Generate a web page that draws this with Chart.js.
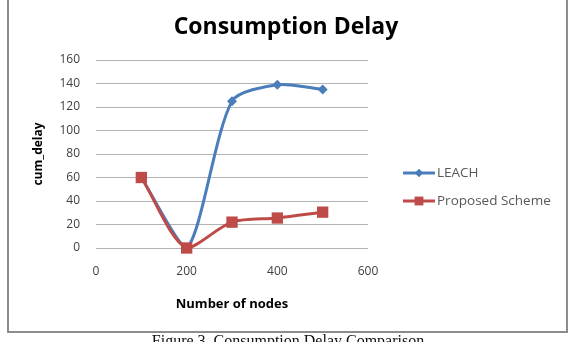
<!DOCTYPE html>
<html>
<head>
<meta charset="utf-8">
<script src="https://cdn.jsdelivr.net/npm/chart.js@4.4.1/dist/chart.umd.min.js"></script>
<style>
  html, body { margin: 0; padding: 0; background: #fff; overflow: hidden; }
  #wrap { position: relative; width: 576px; height: 342px; }
  #frame { position: absolute; left: 7px; top: -3px; width: 557px; height: 332px; border: 2px solid #8c8c8c; box-sizing: content-box; }
  #caption { position: absolute; left: 0; width: 576px; top: 332px; text-align: center; font-family: "Liberation Serif", "DejaVu Serif", serif; font-size: 16px; color: #111; white-space: nowrap; }
  canvas { position: absolute; left: 0; top: 0; }
</style>
</head>
<body>
<div id="wrap">
  <div id="frame"></div>
  <canvas id="c" width="576" height="342"></canvas>
  <div id="caption">Figure 3. Consumption Delay Comparison</div>
</div>
<script>
const nodes = [100, 200, 300, 400, 500];
const leach = [60, 0, 125, 139, 135];
const proposed = [60, 0, 22, 25.5, 30.5];
const seriesNames = ['LEACH', 'Proposed Scheme'];
const yTicks = [0, 20, 40, 60, 80, 100, 120, 140, 160];
const xTicks = [0, 200, 400, 600];
const chartTitle = 'Consumption Delay';

const blue = '#4A7EBB';
const red = '#BE4B48';
const FONT = '"Open Sans", "Liberation Sans", sans-serif';

const toPts = (ys) => nodes.map((x, i) => ({ x: x, y: ys[i] }));

const titlePlugin = {
  id: 'centerTitle',
  afterDraw(chart) {
    const ctx = chart.ctx;
    ctx.save();
    ctx.fillStyle = '#000';
    ctx.font = 'bold 23px ' + FONT;
    ctx.textAlign = 'center';
    ctx.textBaseline = 'middle';
    ctx.fillText(chartTitle, 286, 27);
    ctx.restore();
  }
};

const legendPlugin = {
  id: 'excelLegend',
  afterDraw(chart) {
    const ctx = chart.ctx;
    const rows = [173, 201];
    chart.data.datasets.forEach((ds, i) => {
      const y = rows[i];
      ctx.save();
      ctx.strokeStyle = ds.borderColor;
      ctx.lineWidth = 3;
      ctx.beginPath();
      ctx.moveTo(403, y);
      ctx.lineTo(435, y);
      ctx.stroke();
      ctx.fillStyle = ds.backgroundColor;
      Chart.helpers.drawPoint(ctx, { pointStyle: ds.pointStyle, radius: i === 0 ? 4 : 6, borderWidth: 0 }, 419, y);
      ctx.fill();
      ctx.fillStyle = '#595959';
      ctx.font = '13.5px ' + FONT;
      ctx.textBaseline = 'middle';
      ctx.textAlign = 'left';
      ctx.fillText(ds.label, 437, y);
      ctx.restore();
    });
  }
};

new Chart(document.getElementById('c'), {
  type: 'scatter',
  data: {
    datasets: [
      {
        label: seriesNames[0],
        data: toPts(leach),
        showLine: true,
        borderColor: blue,
        backgroundColor: blue,
        borderWidth: 3,
        tension: 0.25,
        pointStyle: 'rectRot',
        pointRadius: 5,
        pointBorderWidth: 0,
        clip: false,
        order: 2
      },
      {
        label: seriesNames[1],
        data: toPts(proposed),
        showLine: true,
        borderColor: red,
        backgroundColor: red,
        borderWidth: 3,
        tension: 0.3,
        pointStyle: 'rect',
        pointRadius: 8,
        pointBorderWidth: 0,
        clip: false,
        order: 1
      }
    ]
  },
  options: {
    responsive: false,
    animation: false,
    layout: { padding: { left: 0, right: 208, top: 60, bottom: 0 } },
    plugins: {
      legend: { display: false },
      tooltip: { enabled: false },
      title: { display: false }
    },
    scales: {
      x: {
        type: 'linear',
        min: 0, max: 600,
        afterBuildTicks(s) { s.ticks = xTicks.map(v => ({ value: v })); },
        afterFit(s) { s.height = 94; },
        grid: { display: false, drawTicks: false },
        border: { display: false },
        ticks: { color: '#404040', padding: 16, font: { family: FONT, size: 12 } },
        title: {
          display: true, text: 'Number of nodes', color: '#000',
          font: { family: FONT, size: 13, weight: 'bold', lineHeight: 1.2 },
          padding: { top: 0, bottom: 30 }
        }
      },
      y: {
        type: 'linear',
        min: 0, max: 160,
        afterBuildTicks(s) { s.ticks = yTicks.map(v => ({ value: v })); },
        afterFit(s) { s.width = 96; },
        grid: { color: '#b3b3b3', lineWidth: 1, drawTicks: false },
        border: { display: false },
        ticks: { color: '#404040', padding: 16, font: { family: FONT, size: 12 } },
        title: {
          display: true, text: 'cum_delay', color: '#000',
          font: { family: FONT, size: 12, weight: 'bold', lineHeight: 1.2 },
          padding: { top: 31, bottom: 0 }
        }
      }
    }
  },
  plugins: [titlePlugin, legendPlugin]
});
</script>
</body>
</html>
